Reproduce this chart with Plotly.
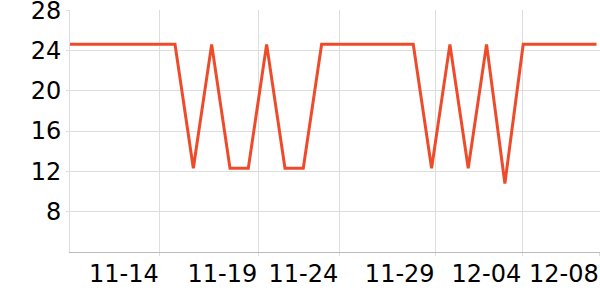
import plotly.graph_objects as go

dates = ["2023-11-09", "2023-11-10", "2023-11-11", "2023-11-12", "2023-11-13",
         "2023-11-14", "2023-11-15", "2023-11-16", "2023-11-17", "2023-11-18",
         "2023-11-19", "2023-11-20", "2023-11-21", "2023-11-22", "2023-11-23",
         "2023-11-24", "2023-11-25", "2023-11-26", "2023-11-27", "2023-11-28",
         "2023-11-29", "2023-11-30", "2023-12-01", "2023-12-02", "2023-12-03",
         "2023-12-04", "2023-12-05", "2023-12-06", "2023-12-07", "2023-12-08"]
values = [24.6, 24.6, 24.6, 24.6, 24.6, 24.6, 24.6, 12.3, 24.6, 12.3,
          12.3, 24.6, 12.3, 12.3, 24.6, 24.6, 24.6, 24.6, 24.6, 24.6,
          12.3, 24.6, 12.3, 24.6, 10.8, 24.6, 24.6, 24.6, 24.6, 24.6]

tick_times = ["2023-11-14 03:58", "2023-11-19 13:05", "2023-11-23 23:02",
              "2023-11-29 05:17", "2023-12-03 22:48", "2023-12-08 04:20"]
tick_labels = ["11-14", "11-19", "11-24", "11-29", "12-04", "12-08"]
y_ticks = [8, 12, 16, 20, 24, 28]

fig = go.Figure()
fig.add_trace(go.Scatter(x=dates, y=values, mode="lines",
                         line=dict(color="#ee4b2b", width=3),
                         showlegend=False, hoverinfo="skip"))

fig.update_layout(
    width=600, height=300,
    margin=dict(l=70, r=0, t=10, b=48),
    paper_bgcolor="white", plot_bgcolor="white",
    font=dict(family="DejaVu Sans", size=24, color="black"),
)
fig.update_xaxes(
    type="date",
    range=["2023-11-09 06:29", "2023-12-08 04:34"],
    tickvals=tick_times, ticktext=tick_labels,
    tickangle=0,
    ticklabelposition="outside left",
    ticklabeloverflow="allow",
    automargin=False,
    showgrid=True, gridcolor="#dddddd", gridwidth=1,
    showline=True, linecolor="#bbbbbb", linewidth=1,
    ticks="outside", ticklen=3, tickcolor="#dddddd",
    zeroline=False,
)
fig.update_yaxes(
    range=[4, 28.01],
    tickvals=y_ticks,
    ticklabeloverflow="allow",
    automargin=False,
    showgrid=True, gridcolor="#dddddd", gridwidth=1,
    showline=True, linecolor="#dddddd", linewidth=1,
    ticks="outside", ticklen=3, tickcolor="#dddddd",
    zeroline=False,
)

fig.write_html("out.html")
